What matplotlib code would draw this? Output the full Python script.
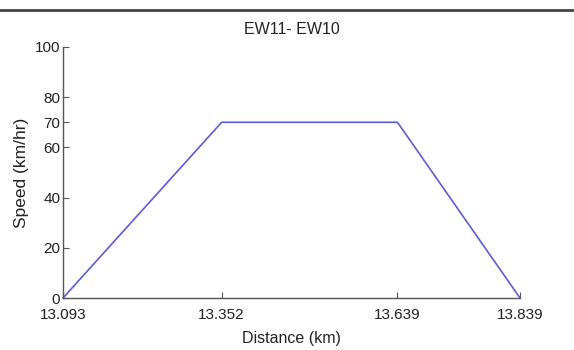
import matplotlib.pyplot as plt
from matplotlib.lines import Line2D

plt.rcParams['font.family'] = ['Liberation Sans', 'DejaVu Sans']

# Дані профілю швидкості
distance = [13.093, 13.352, 13.639, 13.839]
speed = [0, 70, 70, 0]
x_ticks = [13.093, 13.352, 13.639, 13.839]
x_tick_labels = ["13.093", "13.352", "13.639", "13.839"]
y_ticks = [0, 20, 40, 60, 70, 80, 100]

fig = plt.figure(figsize=(5.74, 3.5), dpi=100)
ax = fig.add_axes([63 / 574, 1 - 298 / 350, (520 - 63) / 574, (298 - 47) / 350])

ax.plot(distance, speed, color="#5c5cd8", linewidth=1.2, clip_on=False)

ax.set_xlim(distance[0], distance[-1])
ax.set_ylim(0, 100)
ax.set_xticks(x_ticks)
ax.set_xticklabels(x_tick_labels)
ax.set_yticks(y_ticks)

ax.spines["top"].set_visible(False)
ax.spines["right"].set_visible(False)
for s in ["left", "bottom"]:
    ax.spines[s].set_color("#555555")
    ax.spines[s].set_linewidth(1.0)
ax.tick_params(direction="in", length=4, color="#555555", labelsize=11, labelcolor="#222222")
ax.tick_params(axis="x", pad=7)
ax.tick_params(axis="y", pad=2)

ax.set_title("EW11- EW10", fontsize=11.5, color="#222222", pad=9)
ax.set_xlabel("Distance (km)", fontsize=11.5, color="#222222", labelpad=7)
ax.set_ylabel("Speed (km/hr)", fontsize=12.5, color="#222222", labelpad=4)

# Лінія обрізання зверху
fig.add_artist(Line2D([0, 1], [1 - 10 / 350, 1 - 10 / 350], color="#444444", linewidth=2))

fig.savefig("out.png", dpi=100)
